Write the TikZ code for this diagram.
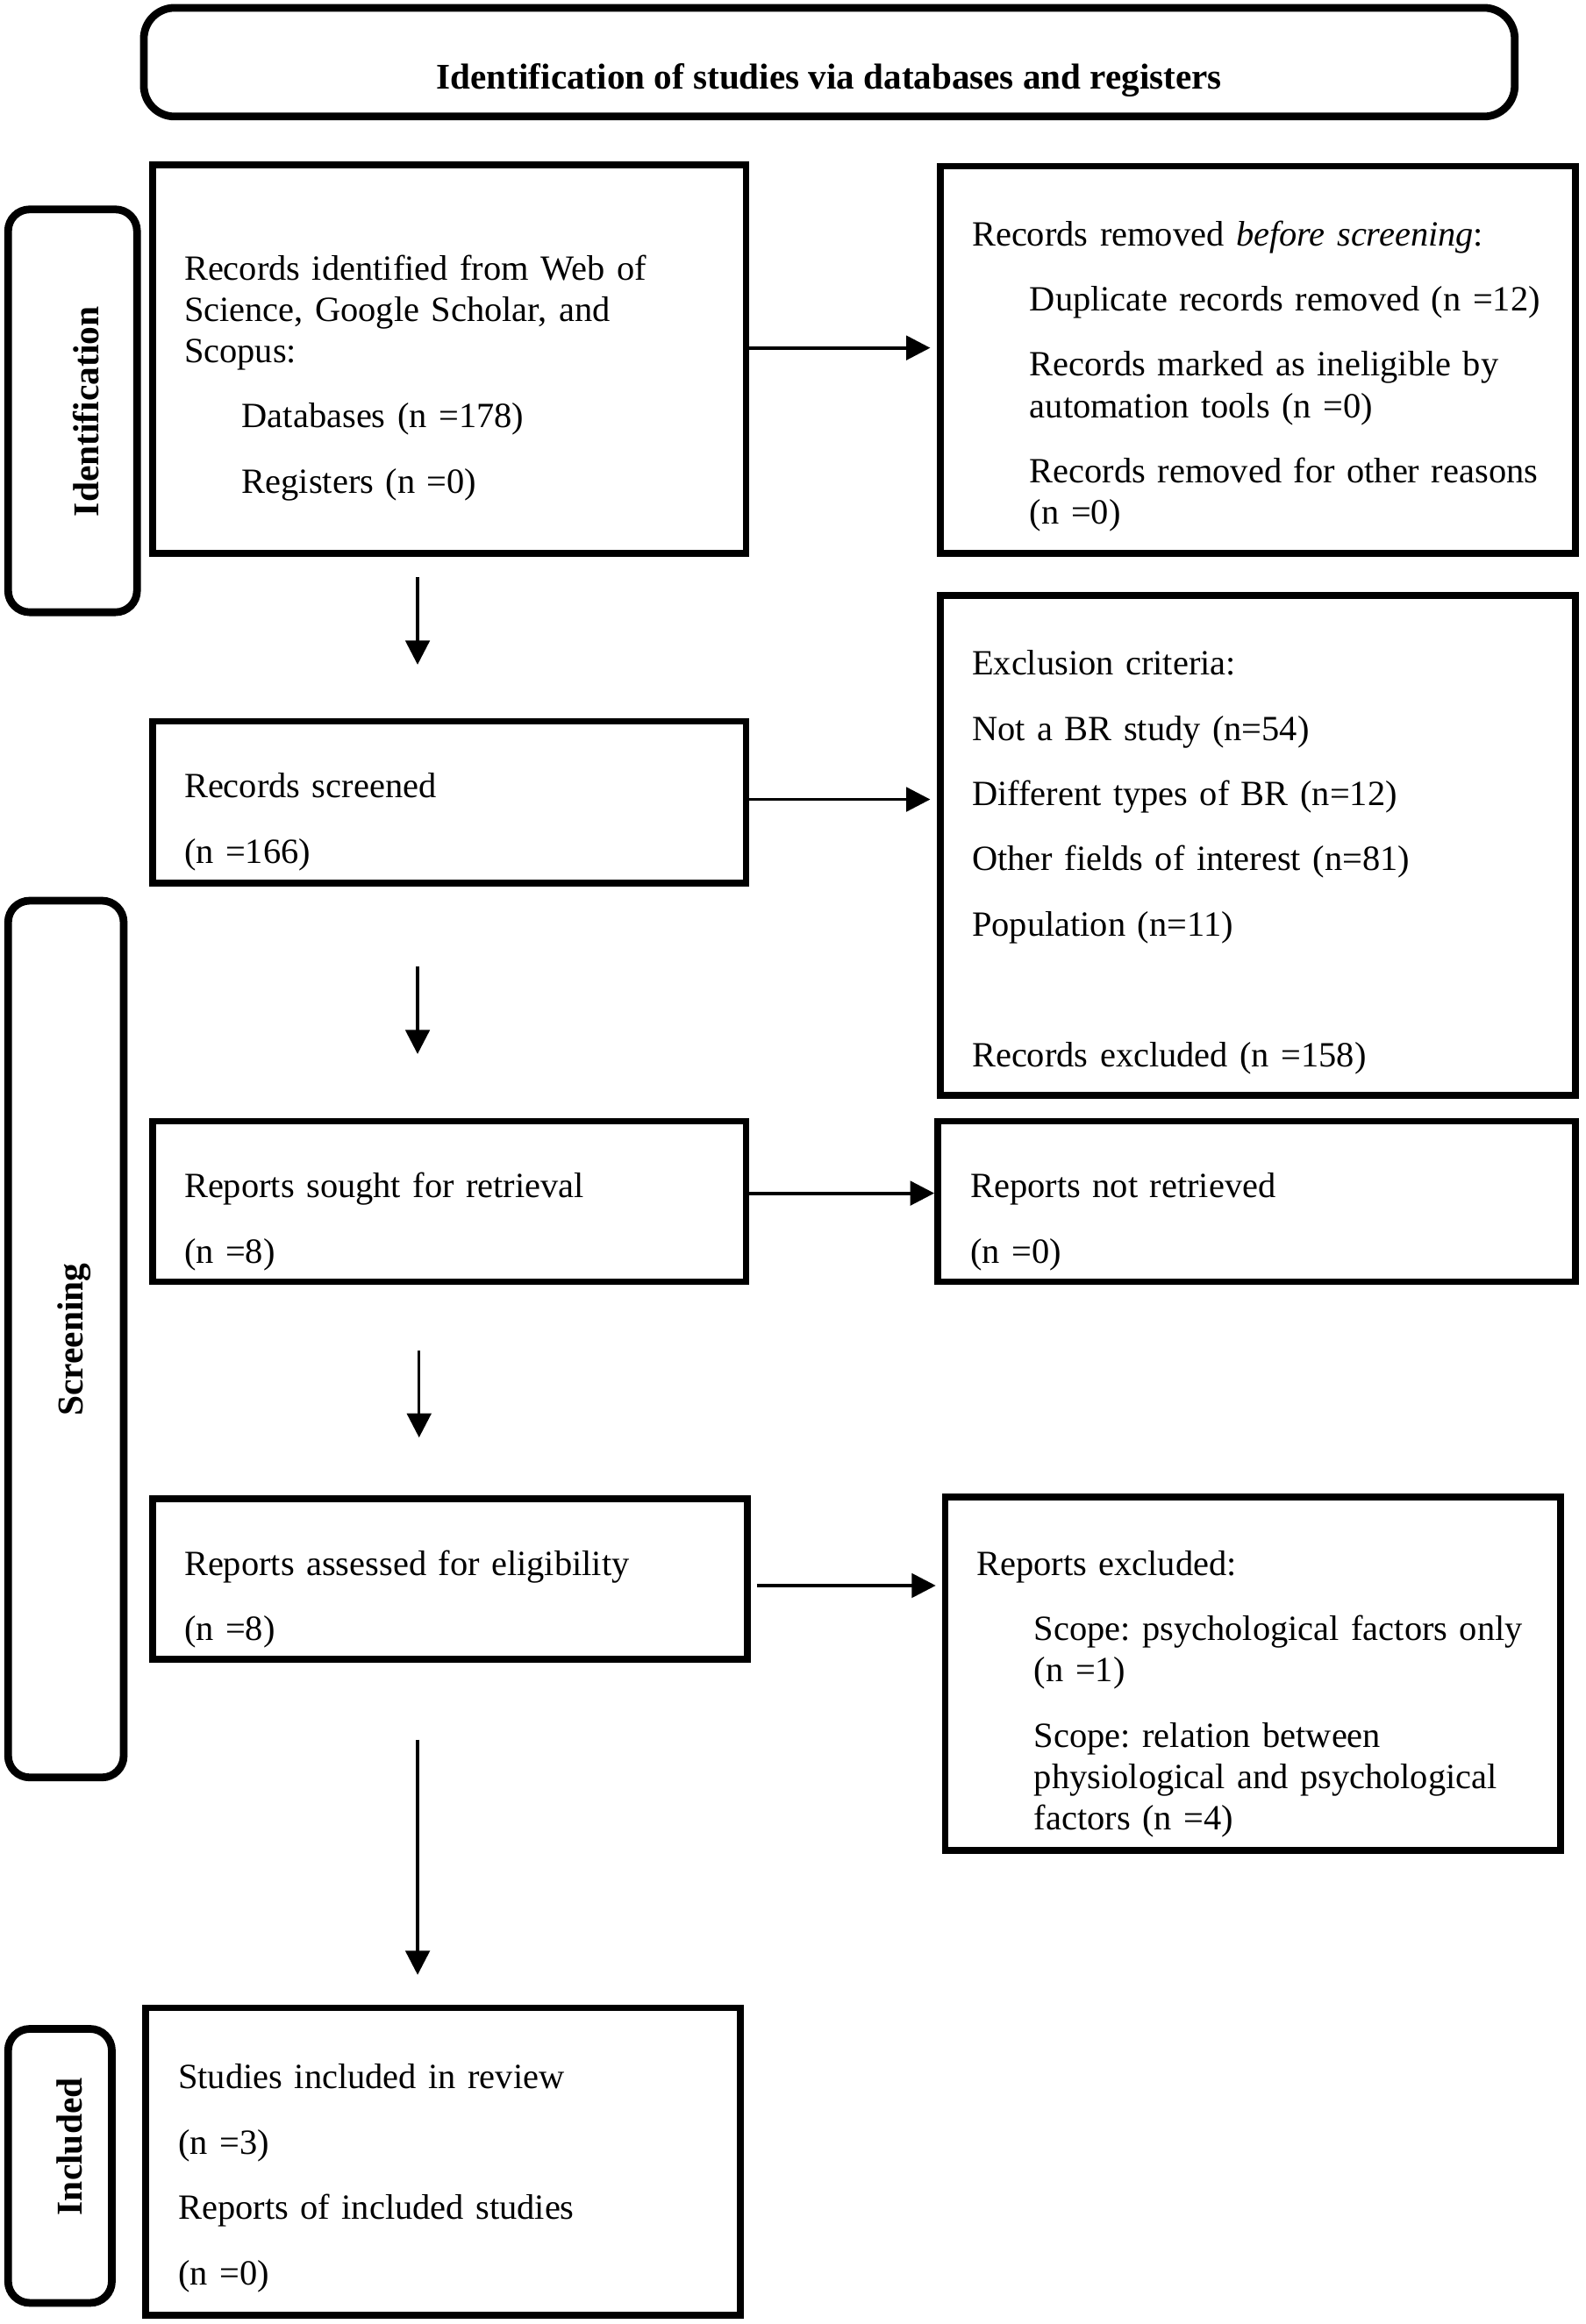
\documentclass[tikz,border=0pt]{standalone}
\usepackage{fontspec}
\setmainfont{Liberation Serif}
\usetikzlibrary{arrows.meta}

\newcommand{\indnt}{\hspace*{18.7pt}}

\tikzset{
  box/.style={draw, line width=2.2pt, inner sep=0pt},
  stage/.style={draw, line width=2.5pt, rounded corners=7pt, inner sep=0pt},
  headbox/.style={draw, line width=2.5pt, rounded corners=10pt, inner sep=0pt},
  txt/.style={anchor=base west, inner sep=0pt, text width=9cm, align=left,
    font=\fontsize{11.5}{13.45}\selectfont\frenchspacing},
  stagetxt/.style={rotate=90, inner sep=0pt, font=\fontsize{11.8}{13.45}\selectfont\bfseries},
  harrow/.style={-{Triangle[length=7.8pt,width=7.8pt]}, line width=1.1pt},
  varrow/.style={-{Triangle[length=7.8pt,width=7.8pt]}, line width=1pt},
}

\begin{document}
\begin{tikzpicture}[x=0.016882cm, y=-0.016882cm]
  \useasboundingbox (0,0) rectangle (1071,1569.8);

  % header and stage labels
  \node[headbox, minimum width=15.623cm, minimum height=1.239cm] (head) at (560,42) {};
  \node[inner sep=0pt, font=\fontsize{11.7}{13.45}\selectfont\bfseries] (head-txt) at (560,54)
    {Identification of studies via databases and registers};

  \node[stage, minimum width=1.469cm, minimum height=4.592cm] (identlab) at (49,277.5) {};
  \node[stagetxt] (identlab-txt) at (58,278) {Identification};
  \node[stage, minimum width=1.317cm, minimum height=9.994cm] (screenlab) at (44.5,904.5) {};
  \node[stagetxt] (screenlab-txt) at (50,905) {Screening};
  \node[stage, minimum width=1.182cm, minimum height=3.123cm] (inclab) at (40.5,1463) {};
  \node[stagetxt] (inclab-txt) at (47,1450) {Included};

  % boxes
  \node[box, minimum width=6.760cm, minimum height=4.430cm] (ident) at (303.5,242.5) {};
  \node[box, minimum width=7.232cm, minimum height=4.413cm] (removed) at (849.5,243) {};
  \node[box, minimum width=6.760cm, minimum height=1.847cm] (screened) at (303.5,542) {};
  \node[box, minimum width=7.232cm, minimum height=5.696cm] (excluded) at (849.5,571) {};
  \node[box, minimum width=6.760cm, minimum height=1.830cm] (sought) at (303.5,811.5) {};
  \node[box, minimum width=7.266cm, minimum height=1.830cm] (notretr) at (848.5,811.5) {};
  \node[box, minimum width=6.776cm, minimum height=1.830cm] (assessed) at (304,1066.5) {};
  \node[box, minimum width=7.013cm, minimum height=4.025cm] (repexcl) at (846,1130.5) {};
  \node[box, minimum width=6.776cm, minimum height=3.501cm] (included) at (299,1460) {};

  % texts
  \node[txt] (ident-txt) at (124,189) {Records identified from Web of\\
    Science, Google Scholar, and\\ Scopus:\\[7.7pt]
    \indnt Databases (n =178)\\[7.7pt]
    \indnt Registers (n =0)};
  \node[txt] (removed-txt) at (656,166) {Records removed \textit{before screening}:\\[7.7pt]
    \indnt Duplicate records removed (n =12)\\[7.7pt]
    \indnt Records marked as ineligible by\\
    \indnt automation tools (n =0)\\[7.7pt]
    \indnt Records removed for other reasons\\
    \indnt (n =0)};
  \node[txt] (screened-txt) at (124,539) {Records screened\\[7.7pt](n =166)};
  \node[txt] (excluded-txt) at (656,456) {Exclusion criteria:\\[7.7pt]
    Not a BR study (n=54)\\[7.7pt]
    Different types of BR (n=12)\\[7.7pt]
    Other fields of interest (n=81)\\[7.7pt]
    Population (n=11)\\[29pt]
    Records excluded (n =158)};
  \node[txt] (sought-txt) at (124,809) {Reports sought for retrieval\\[7.7pt](n =8)};
  \node[txt] (notretr-txt) at (655,809) {Reports not retrieved\\[7.7pt](n =0)};
  \node[txt] (assessed-txt) at (124,1064) {Reports assessed for eligibility\\[7.7pt](n =8)};
  \node[txt] (repexcl-txt) at (659,1064) {Reports excluded:\\[7.7pt]
    \indnt Scope: psychological factors only\\
    \indnt (n =1)\\[7.7pt]
    \indnt Scope: relation between\\
    \indnt physiological and psychological\\
    \indnt factors (n =4)};
  \node[txt] (included-txt) at (120,1411) {Studies included in review\\[7.7pt]
    (n =3)\\[7.7pt]
    Reports of included studies\\[7.7pt]
    (n =0)};

  % arrows to the right
  \draw[harrow, shorten >=0.08cm] ([yshift=0.127cm]ident.east) -- ([yshift=0.127cm]ident.east -| removed.west);
  \draw[harrow, shorten >=0.08cm] ([yshift=0.034cm]screened.east) -- ([yshift=0.034cm]screened.east -| excluded.west);
  \draw[harrow] ([yshift=0.093cm]sought.east) -- ([yshift=0.093cm]sought.east -| notretr.west);
  \draw[harrow, shorten <=0.068cm, shorten >=0.068cm] ([yshift=-0.076cm]assessed.east) -- ([yshift=-0.076cm]assessed.east -| repexcl.west);

  % arrows down
  \draw[varrow, shorten <=0.236cm, shorten >=0.608cm] ([xshift=-0.363cm]ident.south) -- ([xshift=-0.363cm]ident.south |- screened.north);
  \draw[varrow, shorten <=0.912cm, shorten >=0.726cm] ([xshift=-0.363cm]screened.south) -- ([xshift=-0.363cm]screened.south |- sought.north);
  \draw[varrow, shorten <=0.743cm, shorten >=0.658cm] ([xshift=-0.346cm]sought.south) -- ([xshift=-0.346cm]sought.south |- assessed.north);
  \draw[varrow, shorten <=0.878cm, shorten >=0.338cm] ([xshift=-0.371cm]assessed.south) -- ([xshift=-0.371cm]assessed.south |- included.north);
\end{tikzpicture}
\end{document}
